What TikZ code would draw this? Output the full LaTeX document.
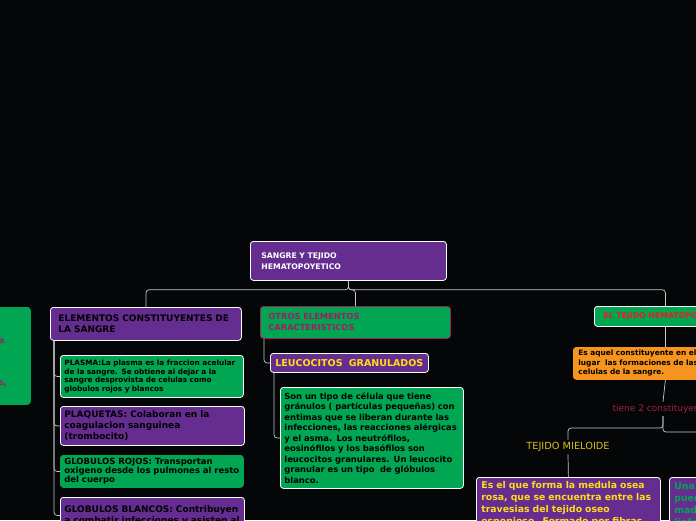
\documentclass[tikz,border=0pt]{standalone}
\usepackage{fontspec}
\setmainfont{DejaVu Sans}
\definecolor{bg}{HTML}{050608}
\definecolor{purp}{HTML}{662D91}
\definecolor{grn}{HTML}{00A651}
\definecolor{orng}{HTML}{F7941D}
\definecolor{mag}{HTML}{9E1F63}
\definecolor{redt}{HTML}{ED1C24}
\definecolor{yel}{HTML}{FFDE17}
\definecolor{ylab}{HTML}{D9C21A}
\definecolor{tienec}{HTML}{A3213F}
\definecolor{linec}{HTML}{C8C8C8}
\begin{document}
\begin{tikzpicture}[x=1pt,y=-1pt,
  box/.style={rectangle, rounded corners=3pt, draw=white, line width=0.8pt, anchor=north west, align=left, inner ysep=0pt},
  pbox/.style={box, fill=purp},
  gbox/.style={box, fill=grn},
  fsz/.style 2 args={font=\fontsize{#1}{#2}\selectfont\bfseries},
  lbl/.style={inner sep=2.5pt, fill=bg},
  link/.style={draw=linec, line width=0.7pt, rounded corners=3pt}]
\useasboundingbox (0,0) rectangle (696,520);
\clip (0,0) rectangle (696,520);
\fill[bg] (0,0) rectangle (696,520);

% root
\node[pbox, text=white, fsz={7.7}{11}, minimum width=196, minimum height=39, inner xsep=11, text width=174] (root) at (250,241) {SANGRE Y TEJIDO\\HEMATOPOYETICO};

% left partial box
\node[gbox, draw=grn, minimum width=180, minimum height=97, inner xsep=0pt] (leftbox) at (-150,307) {};
\node[anchor=base east, inner sep=0pt, text=mag, fsz={8.5}{9}] (lefta) at (4.5,343) {a};
\node[anchor=base east, inner sep=0pt, text=mag, fsz={8.5}{9}] (lefts) at (7,385) {s,};

% ELEMENTOS branch
\node[pbox, text=black, fsz={9}{10.5}, minimum width=191, minimum height=33, inner xsep=8, text width=175] (elem) at (50,307) {ELEMENTOS CONSTITUYENTES DE\\LA SANGRE};
\node[gbox, text=black, fsz={7.3}{8.7}, minimum width=183, minimum height=42, inner xsep=4, text width=175] (plasma) at (60,355) {PLASMA:La plasma es la fraccion acelular\\de la sangre. Se obtiene al dejar a la\\sangre desprovista de celulas como\\globulos rojos y blancos};
\node[pbox, text=black, fsz={9}{10.8}, minimum width=184, minimum height=39, inner xsep=4, text width=176] (plaq) at (60,406) {PLAQUETAS: Colaboran en la\\coagulacion sanguinea\\(trombocito)};
\node[gbox, draw=grn, text=black, fsz={8.5}{9}, minimum width=183, minimum height=32, inner xsep=4, text width=175] (rojos) at (60,455) {GLOBULOS ROJOS: Transportan\\oxigeno desde los pulmones al resto\\del cuerpo};
\node[pbox, text=black, fsz={9}{11}, minimum width=184, minimum height=36, inner xsep=4, text width=176] (blancos) at (60,497) {GLOBULOS BLANCOS: Contribuyen\\a combatir infecciones y asisten al};

% OTROS branch
\node[gbox, draw=mag, text=mag, fsz={8.3}{11}, minimum width=190, minimum height=32, inner xsep=8, text width=174] (otros) at (260,306) {OTROS ELEMENTOS\\CARACTERISTICOS};
\node[pbox, text=yel, fsz={9.5}{10}, minimum width=158, minimum height=19, inner xsep=5, text width=148] (leuco) at (270,353) {LEUCOCITOS~~GRANULADOS};
\node[gbox, text=black, fsz={8.4}{10.5}, minimum width=183, minimum height=101, inner xsep=4, text width=175] (son) at (280,387) {Son un tipo de célula que tiene\\gránulos ( partículas pequeñas) con\\entimas que se liberan durante las\\infecciones, las reacciones alérgicas\\y el asma. Los neutrófilos,\\eosinófilos y los basófilos son\\leucocitos granulares. Un leucocito\\granular es un tipo~~de glóbulos\\blanco.};

% TEJIDO branch
\node[gbox, text=redt, fsz={7.8}{9}, minimum width=142, minimum height=20, inner xsep=9, text width=124] (tejido) at (594,306) {\mbox{EL TEJIDO HEMATOPOYETICO}};
\node[box, fill=orng, draw=orng, text=black, fsz={7.4}{9.5}, minimum width=184, minimum height=32, inner xsep=5, text width=174] (orange) at (573,347) {Es aquel constituyente en el\\lugar~~las formaciones de las\\celulas de la sangre.};
\node[lbl, text=tienec, font=\fontsize{9}{10}\selectfont] (tiene) at (663,409) {tiene 2 constituyentes};
\node[lbl, text=ylab, font=\fontsize{9.8}{10}\selectfont] (mlabel) at (568,447) {TEJIDO MIELOIDE};
\node[pbox, text=yel, fsz={9.3}{12}, minimum width=184, minimum height=54, inner xsep=5, text width=174] (mielo) at (476,477) {Es el que forma la medula osea\\rosa, que se encuentra entre las\\travesias del tejido oseo\\esponjoso. Formado por fibras};
\node[pbox, text=grn, fsz={9.3}{12}, minimum width=60, minimum height=54, inner xsep=5, text width=50] (rightbox) at (669,477) {Una\\pued\\madr\\linfo};
\coordinate (linfoside) at (760,432);

% connectors
\draw[link] (root.south) -- ++(0,9) -| (elem.north);
\draw[link] (root.south) -- ++(0,9) -| (otros.north);
\draw[link] (root.south) -- ++(0,9) -| (tejido.north);
\draw[link] ([xshift=4pt]elem.south west) |- (plasma.west);
\draw[link] ([xshift=4pt]elem.south west) |- (plaq.west);
\draw[link] ([xshift=4pt]elem.south west) |- (rojos.west);
\draw[link] ([xshift=4pt]elem.south west) |- (blancos.west);
\draw[link] ([xshift=4pt]otros.south west) |- (leuco.west);
\draw[link] ([xshift=4pt]leuco.south west) |- (son.west);
\draw[link] (tejido.south) -- (orange.north);
\draw[link] (orange.south) -- (tiene.north);
\draw[link] (tiene.south) -- ++(0,12) -| (mlabel.north);
\draw[link] (tiene.south) |- (linfoside);
\draw[link] (mlabel.south) -- (mielo.north);
\end{tikzpicture}
\end{document}
